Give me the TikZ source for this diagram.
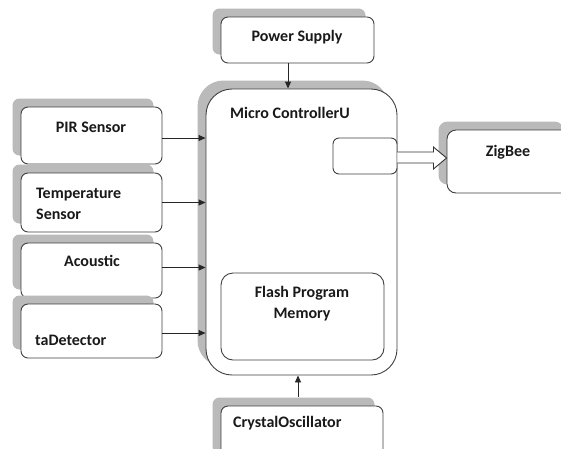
\documentclass[tikz,border=0pt]{standalone}
\usepackage{fontspec}
\setmainfont{Carlito}
\usetikzlibrary{shadows,calc,arrows.meta}
\begin{document}
\begin{tikzpicture}[x=1pt,y=-1pt,
  font=\bfseries\fontsize{16}{21}\selectfont,
  box/.style={draw=black!75, line width=0.9pt, fill=white, rounded corners=7pt,
    inner sep=0pt,
    drop shadow={shadow xshift=-8.5pt, shadow yshift=8.5pt, fill=black!27, opacity=1}},
  plainbox/.style={draw=black!75, line width=0.9pt, fill=white, rounded corners=7pt, inner sep=0pt},
  lbl/.style={inner sep=0pt, text=black!90},
  conn/.style={draw=black!85, line width=0.9pt, -{Triangle[length=7pt,width=6pt]}}]
\clip (0,0) rectangle (561,448);
\fill[white] (0,0) rectangle (561,448);

% power supply
\node[box, minimum width=153pt, minimum height=46pt] (ps) at (297.5,40) {};
\node[lbl] (pst) at (297,37) {Power Supply};

% micro controller
\node[box, rounded corners=26pt, minimum width=191pt, minimum height=286pt] (mcu) at (301.5,232) {};
\node[lbl] (mcut) at (290,113) {Micro ControllerU};
\node[plainbox, rounded corners=6pt, minimum width=64pt, minimum height=36pt] (port) at (365,156) {};
\node[plainbox, rounded corners=12pt, minimum width=163pt, minimum height=87pt] (flash) at (302.5,316.5) {};
\node[lbl, align=center] (flasht) at (302,304) {Flash Program\\Memory};

% zigbee
\node[box, rounded corners=9pt, minimum width=125pt, minimum height=63pt] (zig) at (509.5,161.5) {};
\node[lbl] (zigt) at (508,152) {ZigBee};

% crystal
\node[box, minimum width=162pt, minimum height=56pt] (crys) at (302,434) {};
\node[lbl, anchor=west] (cryst) at (233,423) {CrystalOscillator};

% left sensors
\node[box, minimum width=141pt, minimum height=57pt] (pir) at (91.5,135.5) {};
\node[lbl] (pirt) at (91,127) {PIR Sensor};
\node[box, minimum width=141pt, minimum height=59pt] (temp) at (91.5,202.5) {};
\node[lbl, align=left, anchor=west] (tempt) at (36,203.5) {Temperature\\Sensor};
\node[box, minimum width=141pt, minimum height=55pt] (acou) at (91.5,270.5) {};
\node[lbl] (acout) at (92,261) {Acoustic};
\node[box, minimum width=141pt, minimum height=54pt] (ta) at (91.5,331) {};
\node[lbl, anchor=west] (tat) at (35,340) {taDetector};

% connectors
\coordinate (pax) at (288,0);
\coordinate (cax) at (298,397);
\draw[conn] (ps.south -| pax) -- (mcu.north -| pax);
\draw[conn] (cax) -- (mcu.south -| cax);
\draw[conn] ($(pir.east)+(0,2.5)$) -- ($(pir.east -| mcu.west)+(0,2.5)$);
\draw[conn] (temp.east) -- (temp.east -| mcu.west);
\draw[conn] ($(acou.east)+(0,-3)$) -- ($(acou.east -| mcu.west)+(0,-3)$);
\draw[conn] ($(ta.east)+(0,2)$) -- ($(ta.east -| mcu.west)+(0,2)$);

% hollow arrow
\draw[draw=black!80, line width=0.9pt, fill=white]
  ($(port.east)+(0,-4)$) -- ($(port.east)+(36,-4)$) -- ($(port.east)+(36,-9)$)
  -- (zig.west |- 0,158) -- ($(port.east)+(36,13)$) -- ($(port.east)+(36,7)$)
  -- ($(port.east)+(0,7)$);
\end{tikzpicture}
\end{document}
